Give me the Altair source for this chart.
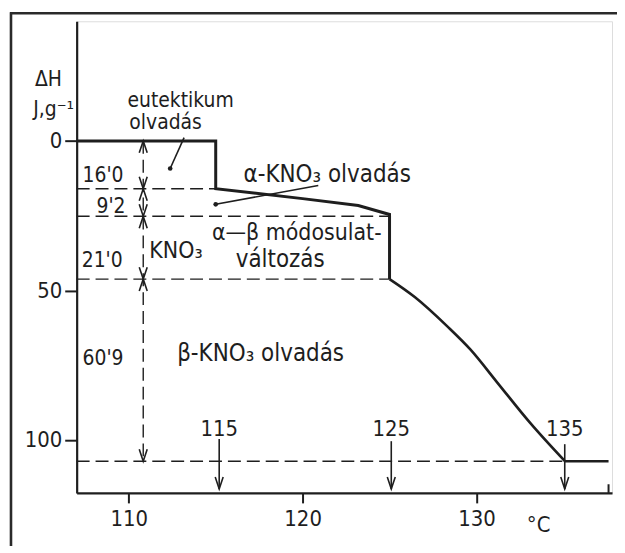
import altair as alt
import pandas as pd

FONT = "Liberation Sans Narrow, DejaVu Sans Condensed, Liberation Sans, sans-serif"
INK = "#1e1e1e"

# ---- data -----------------------------------------------------------------
# enthalpy curve (temperature in °C, ΔH in J/g, drawn downwards)
curve_t = [107.0, 115.0, 115.0, 120.0, 123.2, 125.0, 125.0, 126.45, 128.34, 129.66, 131.2, 133.09, 135.09, 137.6]
curve_h = [0.0, 0.0, 16.0, 19.3, 21.6, 24.6, 46.2, 52.2, 62.1, 69.8, 80.8, 94.3, 107.1, 107.1]
# index ranges: stepped part, smooth β-melting part, final plateau
step_part = (0, 7)
smooth_part = (6, 13)
tail_part = (12, 14)

# cumulative levels (dashed) and where they end
level_h = [16.0, 25.2, 46.2, 107.1]
level_end = [115.0, 125.0, 125.0, 135.0]

# partial heats shown by the double arrow
arrow_t = 110.83
seg_top = [0.0, 16.0, 25.2, 46.2]
seg_bot = [16.0, 25.2, 46.2, 107.1]
part_text = ["16'0", "9'2", "21'0", "60'9"]
part_t = [107.34, 108.14, 107.29, 107.34]
part_h = [13.9, 24.2, 42.2, 74.8]

# characteristic temperatures marked with arrows
mark_text = ["115", "125", "135"]
mark_t = [115.2, 125.1, 135.08]
mark_top = [99.7, 100.4, 101.4]
mark_tip = [116.4, 116.4, 116.4]
mark_label_h = [98.7, 98.7, 98.7]

# free text annotations
ann_text = ["ΔH", "J,g⁻¹", "eutektikum", "olvadás", "KNO₃", "α-KNO₃ olvadás",
            "α—β módosulat-", "változás", "β-KNO₃ olvadás", "°C"]
ann_t = [104.6, 104.5, 109.92, 110.03, 111.18, 116.6, 114.78, 116.15, 112.78, 132.9]
ann_h = [-18.4, -8.4, -11.4, -3.9, 39.2, 13.9, 33.2, 42.2, 73.7, 130.7]
ann_size = [21, 21, 21, 21, 23, 24, 23, 24, 24, 22]

# leader lines: (from) -> (dot)
lead_t1 = [113.18, 120.9]
lead_h1 = [-1.07, 14.9]
lead_t2 = [112.38, 115.0]
lead_h2 = [9.24, 21.2]

x_ticks = [110, 120, 130]
y_ticks = [0, 50, 100]

# ---- chart -------------------------------------------------------------------
xs = alt.Scale(domain=[107, 137.8], nice=False, zero=False)
ys = alt.Scale(domain=[-40, 117.7], nice=False, zero=False, reverse=True)
xax = alt.Axis(values=x_ticks, format="d", tickSize=10, tickWidth=2, tickColor=INK,
               domainColor=INK, domainWidth=2.2, labelFont=FONT, labelFontSize=22,
               labelColor=INK, labelPadding=6, grid=False)
yax = alt.Axis(values=y_ticks, format="d", tickSize=12, tickWidth=2, tickColor=INK,
               domainColor=INK, domainWidth=2.2, labelFont=FONT, labelFontSize=22,
               labelColor=INK, labelPadding=3, grid=False)


def X(f):
    return alt.X(f, type="quantitative", scale=xs, axis=xax, title=None)


def Y(f):
    return alt.Y(f, type="quantitative", scale=ys, axis=yax, title=None)


def part(rng):
    a, b = rng
    return pd.DataFrame({"t": curve_t[a:b], "h": curve_h[a:b], "i": list(range(a, b))})


steps = alt.Chart(part(step_part)).mark_line(color=INK, strokeWidth=3, strokeJoin="miter").encode(
    x=X("t"), y=Y("h"), order=alt.Order("i:Q"))
smooth = alt.Chart(part(smooth_part)).mark_line(color=INK, strokeWidth=2.6, interpolate="monotone").encode(
    x=X("t"), y=Y("h"), order=alt.Order("i:Q"))
tail = alt.Chart(part(tail_part)).mark_line(color=INK, strokeWidth=2.6).encode(
    x=X("t"), y=Y("h"), order=alt.Order("i:Q"))

lev_df = pd.DataFrame({"h": level_h, "t0": [107.0] * len(level_h), "t1": level_end})
levels = alt.Chart(lev_df).mark_rule(color=INK, strokeWidth=1.4, strokeDash=[13, 6]).encode(
    x=X("t0"), x2="t1", y=Y("h"))

vdf = pd.DataFrame({"t": [arrow_t], "h0": [seg_top[0]], "h1": [seg_bot[-1]]})
vline = alt.Chart(vdf).mark_rule(color=INK, strokeWidth=1.4, strokeDash=[13, 6]).encode(
    x=X("t"), y=Y("h0"), y2="h1")

up_df = pd.DataFrame({"t": [arrow_t] * len(seg_top), "h": seg_top})
dn_df = pd.DataFrame({"t": [arrow_t] * len(seg_bot) + mark_t, "h": seg_bot + mark_tip})
up_heads = alt.Chart(up_df).mark_point(shape="M-1,3L0,0L1,3", filled=False, size=64,
                                       strokeWidth=1.6, color=INK, opacity=1).encode(x=X("t"), y=Y("h"))
dn_heads = alt.Chart(dn_df).mark_point(shape="M-1,-3L0,0L1,-3", filled=False, size=64,
                                       strokeWidth=1.6, color=INK, opacity=1).encode(x=X("t"), y=Y("h"))

mdf = pd.DataFrame({"t": mark_t, "h0": mark_top, "h1": mark_tip, "lab": mark_text, "lh": mark_label_h})
marks = alt.Chart(mdf).mark_rule(color=INK, strokeWidth=1.6).encode(x=X("t"), y=Y("h0"), y2="h1")
mark_labels = alt.Chart(mdf).mark_text(font=FONT, fontSize=22, color=INK, align="center",
                                       baseline="alphabetic").encode(x=X("t"), y=Y("lh"), text="lab")

pdf = pd.DataFrame({"t": part_t, "h": part_h, "lab": part_text})
part_labels = alt.Chart(pdf).mark_text(font=FONT, fontSize=21, color=INK, align="left",
                                       baseline="alphabetic").encode(x=X("t"), y=Y("h"), text="lab")

adf = pd.DataFrame({"t": ann_t, "h": ann_h, "lab": ann_text, "s": ann_size})
ann = alt.Chart(adf).mark_text(font=FONT, color=INK, align="left",
                               baseline="alphabetic").encode(
    x=X("t"), y=Y("h"), text="lab", size=alt.Size("s:Q", scale=None, legend=None))

ldf = pd.DataFrame({"t1": lead_t1, "h1": lead_h1, "t2": lead_t2, "h2": lead_h2})
leaders = alt.Chart(ldf).mark_rule(color=INK, strokeWidth=1.6).encode(
    x=X("t1"), y=Y("h1"), x2="t2", y2="h2")
dots = alt.Chart(ldf).mark_circle(color=INK, size=22, opacity=1).encode(x=X("t2"), y=Y("h2"))

end_df = pd.DataFrame({"t": [137.6], "h0": [114.8], "h1": [117.7]})
end_tick = alt.Chart(end_df).mark_rule(color=INK, strokeWidth=2).encode(x=X("t"), y=Y("h0"), y2="h1")

one = pd.DataFrame({"k": [0]})
frame_top = alt.Chart(one).mark_rule(color="#2a2a2a", strokeWidth=2.6).encode(
    x=alt.value(-67), x2=alt.value(560), y=alt.value(-8))
frame_left = alt.Chart(one).mark_rule(color="#2a2a2a", strokeWidth=2.6).encode(
    x=alt.value(-66), y=alt.value(-9), y2=alt.value(540))

chart = alt.layer(
    levels, vline, steps, smooth, tail, up_heads, dn_heads, marks, mark_labels, part_labels, ann,
    leaders, dots, end_tick, frame_top, frame_left
).properties(
    width=538, height=474,
    autosize=alt.AutoSizeParams(type="none"),
    padding={"left": 69, "top": 12, "right": 5, "bottom": 52},
).configure_view(stroke=None).configure(background="white")

chart.save("out.html", embed_options={"renderer": "svg", "actions": False})
